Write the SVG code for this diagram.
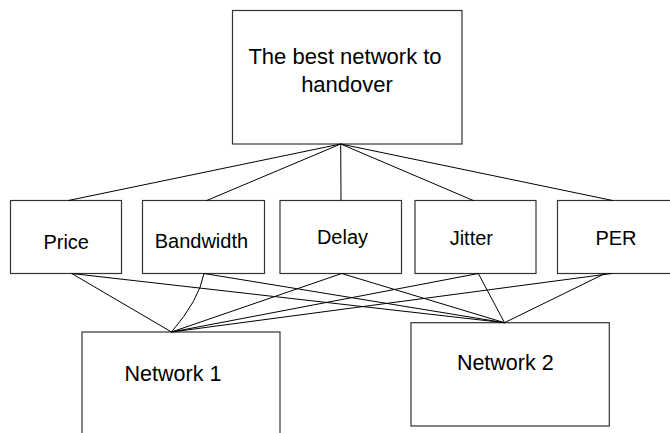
<svg xmlns="http://www.w3.org/2000/svg" width="670" height="433" viewBox="0 0 670 433">
<style>
.box{fill:#fff;stroke:#333;stroke-width:1.2}
.lbl{font-family:"Liberation Sans",Arial,sans-serif;fill:#000;text-anchor:middle}
.c{fill:none;stroke:#000;stroke-width:1}
</style>
<rect width="670" height="433" fill="#fff"/>
<g id="top">
<rect class="box" x="232.5" y="10.5" width="229.5" height="133.5"/>
<text class="lbl" x="345" y="64" font-size="22">The best network to</text>
<text class="lbl" x="347" y="91.5" font-size="22">handover</text>
</g>
<g id="price">
<rect class="box" x="10.5" y="200.5" width="111" height="73"/>
<text class="lbl" x="66.2" y="249" font-size="20">Price</text>
</g>
<g id="bandwidth">
<rect class="box" x="142.5" y="200.5" width="122" height="73"/>
<text class="lbl" x="201.4" y="248" font-size="20">Bandwidth</text>
</g>
<g id="delay">
<rect class="box" x="280" y="200.5" width="121.5" height="73"/>
<text class="lbl" x="342.5" y="243.5" font-size="20">Delay</text>
</g>
<g id="jitter">
<rect class="box" x="415" y="200.5" width="121" height="73"/>
<text class="lbl" x="471.3" y="245" font-size="20">Jitter</text>
</g>
<g id="per">
<rect class="box" x="557.5" y="200.5" width="118" height="73"/>
<text class="lbl" x="616" y="245" font-size="20">PER</text>
</g>
<g id="network1">
<rect class="box" x="82" y="332" width="198" height="110"/>
<text class="lbl" x="173" y="380.5" font-size="21.5">Network 1</text>
</g>
<g id="network2">
<rect class="box" x="411" y="322.7" width="198.3" height="103.3"/>
<text class="lbl" x="505.3" y="370" font-size="21.5">Network 2</text>
</g>
<g id="connectors">
<path class="c" d="M340.7 144 L68.3 200.5 M340.7 144 L206.7 200.5 M340.7 144 L341 200.5 M340.7 144 L473.3 200.5 M340.7 144 L612.7 200.5"/>
<path class="c" d="M171.5 332 L71.7 273.5 M171.5 332 Q199 300 204 273.5 M171.5 332 L341.7 273.5 M171.5 332 L478.3 273.5 M171.5 332 L611.7 273.5"/>
<path class="c" d="M504.5 322.7 L71.7 273.5 M504.5 322.7 L204 273.5 M504.5 322.7 L341.7 273.5 M504.5 322.7 L478.3 273.5 M504.5 322.7 L605 273.5"/>
</g>
</svg>
